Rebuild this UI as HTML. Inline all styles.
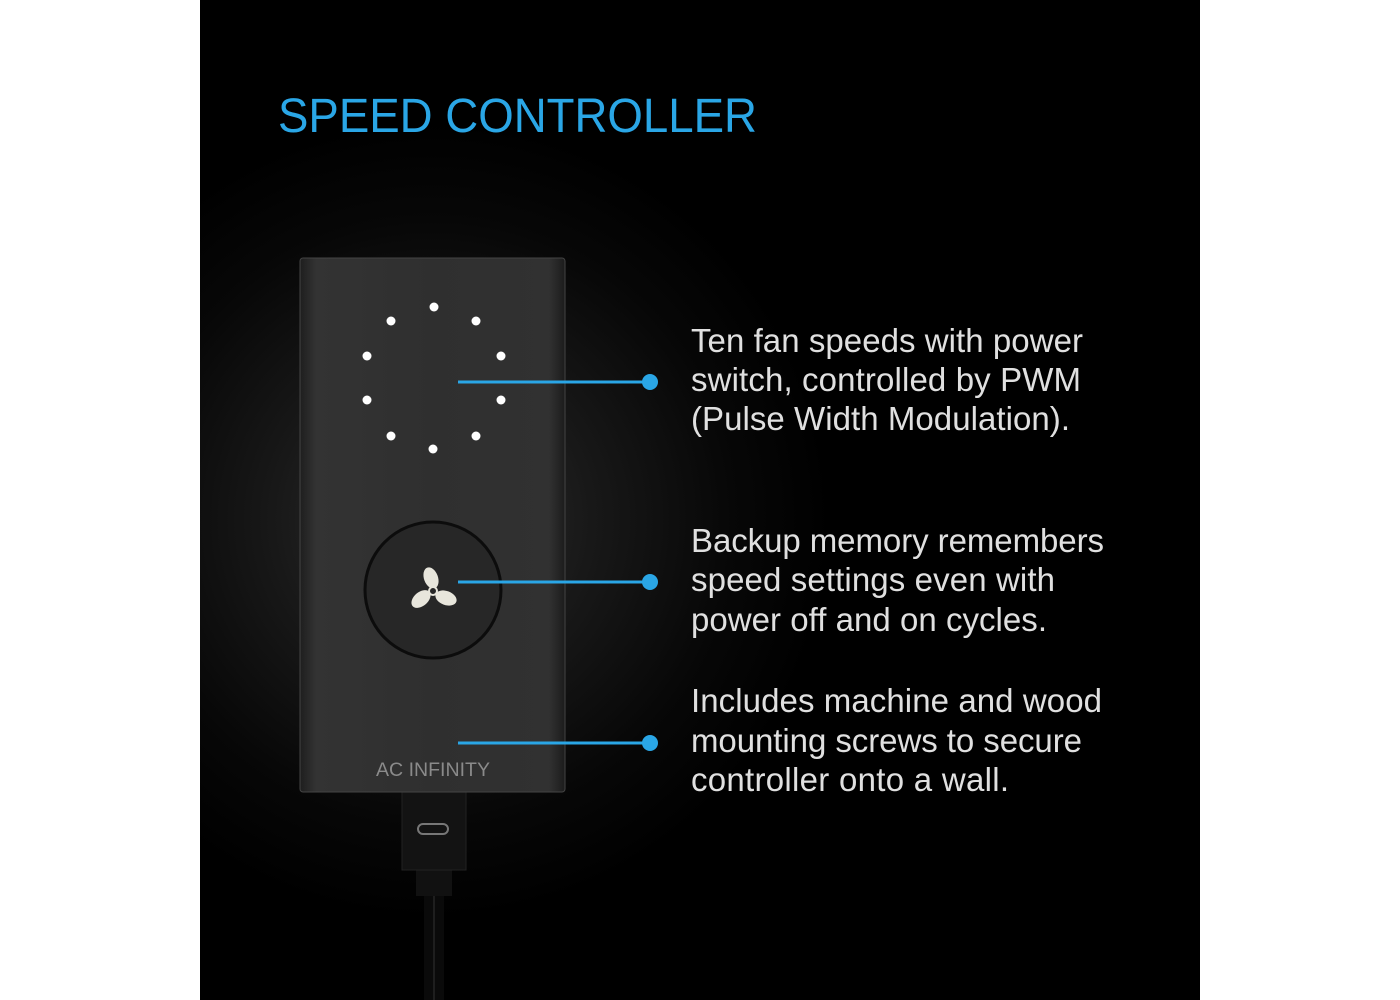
<!DOCTYPE html>
<html><head><meta charset="utf-8"><style>
html,body{margin:0;padding:0;background:#fff;}
svg{display:block}
</style></head><body>
<svg width="1400" height="1000" viewBox="0 0 1400 1000" xmlns="http://www.w3.org/2000/svg">
<defs>
<radialGradient id="glow" cx="432" cy="520" r="400" gradientUnits="userSpaceOnUse">
<stop offset="0" stop-color="#303030"/>
<stop offset="0.4" stop-color="#181818"/>
<stop offset="0.75" stop-color="#070707"/>
<stop offset="1" stop-color="#000"/>
</radialGradient>
<linearGradient id="body" x1="0" x2="1" y1="0" y2="0">
<stop offset="0" stop-color="#1e1e1e"/>
<stop offset="0.06" stop-color="#333"/>
<stop offset="0.5" stop-color="#2f2f2f"/>
<stop offset="0.94" stop-color="#313131"/>
<stop offset="1" stop-color="#1c1c1c"/>
</linearGradient>
<clipPath id="panel"><rect x="200" y="0" width="1000" height="1000"/></clipPath>
</defs>
<rect x="200" y="0" width="1000" height="1000" fill="#000"/>
<g clip-path="url(#panel)">
<rect x="200" y="0" width="1000" height="1000" fill="url(#glow)"/>
</g>
<text x="278" y="132" font-family="Liberation Sans, sans-serif" font-size="48" fill="#2aa6e6" textLength="479" lengthAdjust="spacingAndGlyphs">SPEED CONTROLLER</text>
<!-- cable -->
<rect x="424" y="880" width="20" height="120" fill="#0a0a0a"/>
<line x1="434" y1="890" x2="434" y2="1000" stroke="#333" stroke-width="1"/>
<rect x="416" y="860" width="36" height="36" fill="#111"/>
<rect x="402" y="792" width="64" height="78" fill="#131313" stroke="#222"/>
<rect x="418" y="824" width="30" height="10" rx="5" fill="none" stroke="#777" stroke-width="2"/>
<!-- body -->
<rect x="300" y="258" width="265" height="534" rx="3" fill="url(#body)"/>
<rect x="300" y="258" width="265" height="534" rx="3" fill="none" stroke="#444" stroke-width="1"/>
<g fill="#fff">
<circle cx="434" cy="307" r="4.5"/><circle cx="476" cy="321" r="4.5"/><circle cx="501" cy="356" r="4.5"/>
<circle cx="501" cy="400" r="4.5"/><circle cx="476" cy="436" r="4.5"/><circle cx="433" cy="449" r="4.5"/>
<circle cx="391" cy="436" r="4.5"/><circle cx="367" cy="400" r="4.5"/><circle cx="367" cy="356" r="4.5"/>
<circle cx="391" cy="321" r="4.5"/>
</g>
<circle cx="433" cy="590" r="68" fill="#272727" stroke="#0c0c0c" stroke-width="3"/>
<g fill="#e8e6dc">
<ellipse cx="431" cy="578" rx="7" ry="11" transform="rotate(-20 431 578)"/>
<ellipse cx="421" cy="599" rx="7" ry="11" transform="rotate(-130 421 599)"/>
<ellipse cx="446" cy="598" rx="7" ry="11" transform="rotate(110 446 598)"/>
</g>
<circle cx="433" cy="591" r="4" fill="#272727" stroke="#e8e6dc" stroke-width="2"/>
<text x="433" y="776" text-anchor="middle" font-family="Liberation Sans, sans-serif" font-size="19" fill="#8a8a8a" textLength="114" lengthAdjust="spacingAndGlyphs">AC INFINITY</text>
<!-- connectors -->
<g stroke="#2aa6e6" stroke-width="3">
<line x1="458" y1="382" x2="650" y2="382"/>
<line x1="458" y1="582" x2="650" y2="582"/>
<line x1="458" y1="743" x2="650" y2="743"/>
</g>
<g fill="#2aa6e6">
<circle cx="650" cy="382" r="8"/><circle cx="650" cy="582" r="8"/><circle cx="650" cy="743" r="8"/>
</g>
<g font-family="Liberation Sans, sans-serif" font-size="33" fill="#e0e0e0" lengthAdjust="spacingAndGlyphs">
<text x="691" y="352" textLength="392">Ten fan speeds with power</text>
<text x="691" y="391" textLength="390">switch, controlled by PWM</text>
<text x="691" y="430" textLength="379">(Pulse Width Modulation).</text>
<text x="691" y="552" textLength="413">Backup memory remembers</text>
<text x="691" y="591" textLength="364">speed settings even with</text>
<text x="691" y="631" textLength="356">power off and on cycles.</text>
<text x="691" y="712" textLength="411">Includes machine and wood</text>
<text x="691" y="752" textLength="391">mounting screws to secure</text>
<text x="691" y="791" textLength="318">controller onto a wall.</text>
</g>
</svg>
</body></html>
